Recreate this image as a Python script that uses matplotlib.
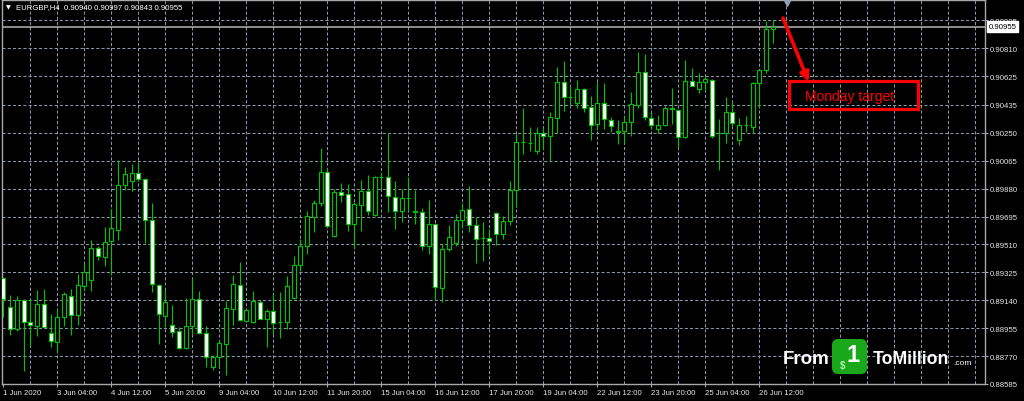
import matplotlib
matplotlib.use('Agg')
import matplotlib.pyplot as plt
from matplotlib.patches import Rectangle, FancyBboxPatch
import matplotlib.transforms as mtransforms
import numpy as np

# EURGBP H4 candles, 1 Jun 20:00 .. 26 Jun 20:00
opens = [0.89290, 0.89096, 0.88952, 0.89145, 0.88993, 0.88970, 0.89116, 0.88926, 0.88866, 0.89030,
         0.89170, 0.89040, 0.89236, 0.89273, 0.89487, 0.89427, 0.89530, 0.89609, 0.89901, 0.89930,
         0.89985, 0.89945, 0.89674, 0.89244, 0.89034, 0.88974, 0.88935, 0.88825, 0.88968, 0.89147,
         0.88924, 0.88699, 0.88765, 0.88853, 0.89085, 0.89244, 0.89004, 0.88993, 0.89129, 0.89018,
         0.89070, 0.88995, 0.88997, 0.89156, 0.89376, 0.89500, 0.89692, 0.89787, 0.89990, 0.89566,
         0.89857, 0.89846, 0.89648, 0.89775, 0.89864, 0.89704, 0.89957, 0.89957, 0.89825, 0.89735,
         0.89818, 0.89733, 0.89725, 0.89500, 0.89648, 0.89224, 0.89482, 0.89520, 0.89674, 0.89745,
         0.89636, 0.89553, 0.89553, 0.89720, 0.89581, 0.89663, 0.89874, 0.90190, 0.90186, 0.90127,
         0.90250, 0.90228, 0.90349, 0.90590, 0.90490, 0.90446, 0.90539, 0.90420, 0.90312, 0.90446,
         0.90337, 0.90259, 0.90259, 0.90319, 0.90435, 0.90652, 0.90349, 0.90276, 0.90305, 0.90413,
         0.90404, 0.90221, 0.90597, 0.90539, 0.90586, 0.90601, 0.90248, 0.90250, 0.90387, 0.90204,
         0.90303, 0.90292, 0.90579, 0.90667, 0.90940]
highs = [0.89297, 0.89173, 0.89167, 0.89151, 0.89158, 0.89206, 0.89217, 0.89047, 0.89080, 0.89192,
         0.89217, 0.89315, 0.89390, 0.89541, 0.89500, 0.89624, 0.89747, 0.90071, 0.90023, 0.90045,
         0.90056, 0.89950, 0.89787, 0.89250, 0.89217, 0.89106, 0.88964, 0.89158, 0.89288, 0.89199,
         0.88970, 0.88776, 0.88880, 0.89137, 0.89310, 0.89392, 0.89085, 0.89199, 0.89140, 0.89085,
         0.89184, 0.89196, 0.89299, 0.89431, 0.89548, 0.89735, 0.89804, 0.90150, 0.90016, 0.89879,
         0.89919, 0.89913, 0.89791, 0.89939, 0.89972, 0.89967, 0.89990, 0.90248, 0.89934, 0.89879,
         0.89957, 0.89868, 0.89753, 0.89808, 0.89655, 0.89511, 0.89636, 0.89714, 0.89785, 0.89897,
         0.89692, 0.89659, 0.89611, 0.89725, 0.89699, 0.89934, 0.90248, 0.90415, 0.90288, 0.90288,
         0.90283, 0.90387, 0.90685, 0.90729, 0.90559, 0.90601, 0.90545, 0.90497, 0.90590, 0.90581,
         0.90354, 0.90337, 0.90361, 0.90519, 0.90785, 0.90773, 0.90387, 0.90369, 0.90430, 0.90547,
         0.90410, 0.90733, 0.90680, 0.90648, 0.90629, 0.90606, 0.90343, 0.90486, 0.90453, 0.90349,
         0.90361, 0.90585, 0.90670, 0.90993, 0.90997]
lows = [0.89032, 0.88908, 0.88935, 0.88670, 0.88836, 0.88901, 0.88960, 0.88829, 0.88789, 0.88968,
        0.88908, 0.88979, 0.89199, 0.89199, 0.89405, 0.89365, 0.89305, 0.89537, 0.89874, 0.89864,
        0.89934, 0.89518, 0.89196, 0.88853, 0.88964, 0.88895, 0.88820, 0.88815, 0.88919, 0.88915,
        0.88699, 0.88676, 0.88699, 0.88644, 0.88974, 0.89003, 0.88997, 0.88990, 0.89013, 0.88833,
        0.88919, 0.88891, 0.88952, 0.89151, 0.89337, 0.89449, 0.89596, 0.89765, 0.89628, 0.89562,
        0.89791, 0.89599, 0.89477, 0.89599, 0.89707, 0.89699, 0.89879, 0.89726, 0.89611, 0.89659,
        0.89733, 0.89643, 0.89471, 0.89449, 0.89140, 0.89129, 0.89470, 0.89499, 0.89621, 0.89593,
        0.89390, 0.89401, 0.89449, 0.89506, 0.89548, 0.89636, 0.89760, 0.90111, 0.90127, 0.90112,
        0.90144, 0.90063, 0.90250, 0.90398, 0.90430, 0.90414, 0.90386, 0.90201, 0.90272, 0.90276,
        0.90255, 0.90177, 0.90184, 0.90232, 0.90414, 0.90337, 0.90276, 0.90248, 0.90298, 0.90312,
        0.90149, 0.90215, 0.90559, 0.90515, 0.90533, 0.90215, 0.90007, 0.90184, 0.90295, 0.90170,
        0.90255, 0.90248, 0.90420, 0.90648, 0.90843]
closes = [0.89151, 0.88952, 0.89145, 0.88993, 0.88974, 0.89118, 0.88964, 0.88870, 0.89030, 0.89184,
          0.89040, 0.89240, 0.89329, 0.89487, 0.89431, 0.89526, 0.89618, 0.89901, 0.89979, 0.89985,
          0.89945, 0.89674, 0.89250, 0.89046, 0.89129, 0.88930, 0.88825, 0.88968, 0.89147, 0.88926,
          0.88765, 0.88765, 0.88858, 0.89092, 0.89250, 0.89007, 0.89074, 0.89134, 0.89018, 0.89070,
          0.88991, 0.88997, 0.89234, 0.89376, 0.89500, 0.89699, 0.89787, 0.89990, 0.89632, 0.89857,
          0.89840, 0.89643, 0.89780, 0.89864, 0.89729, 0.89957, 0.89955, 0.89829, 0.89735, 0.89820,
          0.89820, 0.89722, 0.89500, 0.89648, 0.89229, 0.89477, 0.89559, 0.89674, 0.89740, 0.89640,
          0.89548, 0.89551, 0.89533, 0.89581, 0.89663, 0.89874, 0.90192, 0.90188, 0.90184, 0.90250,
          0.90228, 0.90354, 0.90590, 0.90490, 0.90488, 0.90539, 0.90415, 0.90305, 0.90446, 0.90343,
          0.90295, 0.90257, 0.90319, 0.90441, 0.90652, 0.90354, 0.90301, 0.90305, 0.90413, 0.90411,
          0.90221, 0.90597, 0.90563, 0.90586, 0.90604, 0.90232, 0.90246, 0.90387, 0.90316, 0.90305,
          0.90305, 0.90581, 0.90667, 0.90938, 0.90955]

tick_bars = [0, 8, 16, 24, 32, 40, 48, 56, 64, 72, 80, 88, 96, 104, 112]
tick_labels = ['1 Jun 2020', '3 Jun 04:00', '4 Jun 12:00', '5 Jun 20:00', '9 Jun 04:00',
               '10 Jun 12:00', '11 Jun 20:00', '15 Jun 04:00', '16 Jun 12:00', '17 Jun 20:00',
               '19 Jun 04:00', '22 Jun 12:00', '23 Jun 20:00', '25 Jun 04:00', '26 Jun 12:00']
price_levels = [0.90995, 0.90810, 0.90625, 0.90435, 0.90250, 0.90065, 0.89880,
                0.89695, 0.89510, 0.89325, 0.89140, 0.88955, 0.88770, 0.88585]
last_price = 0.90955
header = 'EURGBP,H4  0.90940 0.90997 0.90843 0.90955'

plt.rcParams['font.family'] = ['Liberation Sans', 'DejaVu Sans']

W, H = 1024, 402
fig = plt.figure(figsize=(W / 100, H / 100), dpi=100, facecolor='black')
ax = fig.add_axes([2 / W, 17 / H, 983 / W, 384 / H])
ax.set_facecolor('black')

o = np.array(opens)
hi = np.array(highs)
lo = np.array(lows)
c = np.array(closes)
x = np.arange(len(c))
bull = c >= o

green = '#00c400'
grid_col = '#8a96a8'
frame_col = '#a8a8a8'
text_col = '#e6e6e6'

# grid
for lv in price_levels:
    ax.axhline(lv, color=grid_col, lw=0.75, ls=(0, (3, 2)), zorder=1)
for b in range(4, 146, 4):
    ax.axvline(b, color=grid_col, lw=0.75, ls=(0, (3, 2)), zorder=1)

# last price line
ax.axhline(last_price, color='#b4b4b4', lw=1.1, zorder=2)

# candles
ax.vlines(x, lo, hi, color=green, lw=0.8, zorder=3)
body_h = np.maximum(np.abs(c - o), 0.00001)
ax.bar(x, body_h, bottom=np.minimum(o, c), width=0.6,
       color=np.where(bull, 'black', 'white'), edgecolor=green, linewidth=0.8, zorder=4)

ax.set_xlim(-0.19, 145.43)
ax.set_ylim(0.885883, 0.911308)

ax.set_xticks(tick_bars)
ax.set_xticklabels(tick_labels, ha='left')
ax.yaxis.tick_right()
ax.set_yticks(price_levels)
ax.set_yticklabels(['%.5f' % v for v in price_levels])
ax.tick_params(axis='both', colors=frame_col, labelcolor=text_col, labelsize=5.6,
               length=2.5, width=0.8, pad=1.2)
for sp in ax.spines.values():
    sp.set_color(frame_col)
    sp.set_linewidth(1)

# current price tag on the scale
blend = mtransforms.blended_transform_factory(ax.transAxes, ax.transData)
ax.text(1.0035, last_price, '%.5f' % last_price, transform=blend, fontsize=5.6,
        color='black', va='center', ha='left', zorder=10, clip_on=False,
        bbox=dict(boxstyle='square,pad=0.2', fc='white', ec='white'))

# header
fig.text(8 / W, 1 - 8 / H, '\u25bc', color='white', fontsize=4.5, va='center', ha='center',
         family=['DejaVu Sans'])
fig.text(16 / W, 1 - 8 / H, header, color='white', fontsize=5.6, va='center', ha='left')

# chart shift marker
ax.plot([0.7987], [0.991], marker='v', markersize=5, color='#8fa0b8',
        transform=ax.transAxes, clip_on=False, zorder=6)

# annotation: arrow + box
ax.annotate('', xy=(0.8205, 0.787), xytext=(0.7945, 0.953), xycoords='axes fraction',
            textcoords='axes fraction',
            arrowprops=dict(arrowstyle='-|>', color='#ff0000', lw=2.6, mutation_scale=13,
                            shrinkA=0, shrinkB=0), zorder=8)
ax.add_patch(Rectangle((0.8006, 0.7161), 0.1313, 0.0730, transform=ax.transAxes,
                       fill=False, edgecolor='#ff0000', lw=2.3, zorder=8))
ax.text(0.8627, 0.7508, 'Monday target', transform=ax.transAxes, color='#ff0000',
        fontsize=10, ha='center', va='center', zorder=8)

# watermark logo
fig.text(783 / W, 1 - 360 / H, 'From', color='white', fontsize=13.5, fontweight='bold',
         va='center', ha='left')
fig.patches.append(FancyBboxPatch((832 / W, 27 / H), 35 / W, 35 / H,
                                  boxstyle='round,pad=0,rounding_size=0.006',
                                  mutation_aspect=W / H, transform=fig.transFigure,
                                  fc='#19a819', ec='none', figure=fig))
fig.text(853 / W, 1 - 356 / H, '1', color='white', fontsize=17, fontweight='bold',
         va='center', ha='center')
fig.text(843 / W, 1 - 366 / H, '$', color='#b8f0b8', fontsize=7, fontweight='bold',
         va='center', ha='center')
fig.text(873 / W, 1 - 360 / H, 'ToMillion', color='white', fontsize=12.7, fontweight='bold',
         va='center', ha='left')
fig.text(953 / W, 1 - 364 / H, '.com', color='white', fontsize=6, va='center', ha='left')

fig.savefig('out.png', dpi=100, facecolor='black')
